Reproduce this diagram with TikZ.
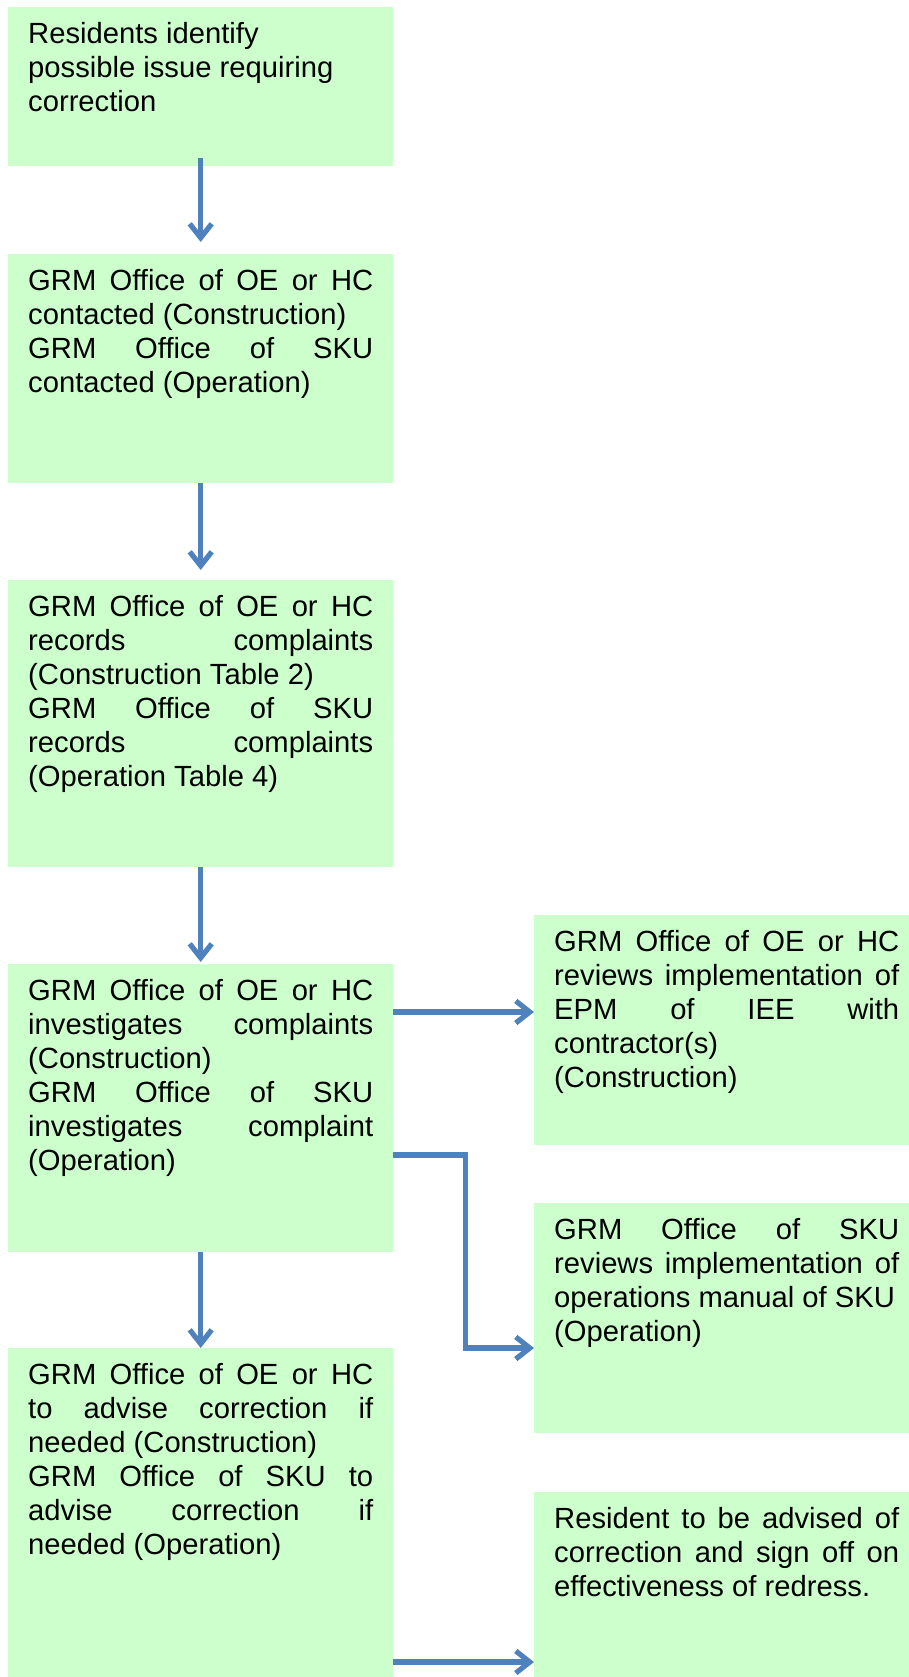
\documentclass[tikz,border=0pt]{standalone}
\usepackage{fontspec}
\setmainfont{Liberation Sans}
\usepackage{xcolor}
\usetikzlibrary{arrows.meta}
\definecolor{stepgreen}{RGB}{204,255,204}
\definecolor{flowblue}{RGB}{79,129,189}
\newcommand{\stepfont}{\fontsize{29.2}{34}\selectfont\tolerance=10000\hyphenpenalty=10000}

\begin{document}
\begin{tikzpicture}[x=1pt, y=-1pt,
    stepbox/.style={fill=stepgreen, anchor=north west, inner xsep=20pt, inner ysep=0pt, text width=345pt, align=justify, text height=36pt, font=\stepfont},
    flow/.style={draw=flowblue, line width=5.2pt, -{Straight Barb[length=14pt,width=22pt]}}
  ]
  \useasboundingbox (0,0) rectangle (909,1677);

  % Nodes
  \node[stepbox, text depth=123pt] (b1) at (8,7) {Residents identify\newline possible issue requiring\newline correction};
  \node[stepbox, text depth=193pt] (b2) at (8,254) {GRM Office of OE or HC\linebreak contacted (Construction)\par GRM Office of SKU\linebreak contacted (Operation)};
  \node[stepbox, text depth=251pt] (b3) at (8,580) {GRM Office of OE or HC\linebreak records complaints\linebreak (Construction Table 2)\par GRM Office of SKU\linebreak records complaints\linebreak (Operation Table 4)};
  \node[stepbox, text depth=252pt] (b4) at (8,964) {GRM Office of OE or HC\linebreak investigates complaints\linebreak (Construction)\par GRM Office of SKU\linebreak investigates complaint\linebreak (Operation)};
  \node[stepbox, text depth=304pt] (b5) at (8,1348) {GRM Office of OE or HC\linebreak to advise correction if\linebreak needed (Construction)\par GRM Office of SKU to\linebreak advise correction if\linebreak needed (Operation)};
  \node[stepbox, text depth=194pt] (rA) at (534,915) {GRM Office of OE or HC\linebreak reviews implementation of\linebreak EPM of IEE with\linebreak contractor(s)\par (Construction)};
  \node[stepbox, text depth=194pt] (rB) at (534,1203) {GRM Office of SKU\linebreak reviews implementation of\linebreak operations manual of SKU\par (Operation)};
  \node[stepbox, text depth=164pt] (rC) at (534,1492) {Resident to be advised of\linebreak correction and sign off on\linebreak effectiveness of redress.};

  \coordinate (h1) at ([yshift=-48pt]b4.north east);
  \coordinate (h2) at ([yshift=-191pt]b4.north east);
  \coordinate (h3) at ([yshift=-314pt]b5.north east);

  % Connections
  \draw[flow] ([yshift=8pt]b1.south) -- ([yshift=12pt]b2.north);
  \draw[flow] (b2) -- ([yshift=10pt]b3.north);
  \draw[flow] (b3) -- ([yshift=2pt]b4.north);
  \draw[flow] (b4) -- (b5);
  \draw[flow] (h1) -- (h1 -| rA.west);
  \draw[flow] (h2) -- ++(72pt,0) |- (rB.west |- b5.north);
  \draw[flow] (h3) -- (h3 -| rC.west);
\end{tikzpicture}
\end{document}
